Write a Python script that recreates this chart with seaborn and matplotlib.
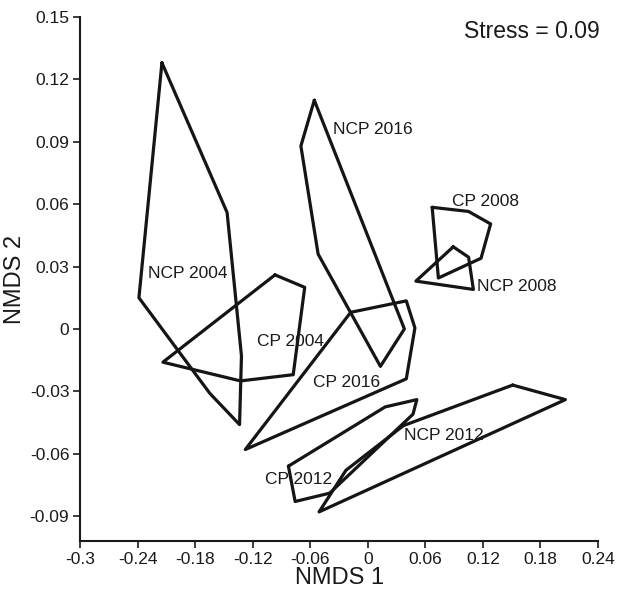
import matplotlib
matplotlib.use("Agg")
import matplotlib.pyplot as plt
import seaborn as sns
import pandas as pd

sns.set_style("ticks")
plt.rcParams['font.family'] = ['Liberation Sans', 'DejaVu Sans']

# Hull vertices per group (NMDS 1, NMDS 2)
ncp2004_x = [-0.215, -0.147, -0.132, -0.134, -0.165, -0.239]
ncp2004_y = [0.128, 0.056, -0.013, -0.046, -0.031, 0.015]
cp2004_x = [-0.097, -0.066, -0.078, -0.133, -0.214]
cp2004_y = [0.026, 0.020, -0.022, -0.025, -0.016]
ncp2016_x = [-0.056, 0.038, 0.013, -0.052, -0.070]
ncp2016_y = [0.110, 0.000, -0.018, 0.036, 0.088]
cp2016_x = [-0.018, 0.040, 0.049, 0.040, -0.128]
cp2016_y = [0.008, 0.0135, 0.0005, -0.024, -0.058]
cp2008_x = [0.067, 0.105, 0.128, 0.118, 0.0735]
cp2008_y = [0.0585, 0.0565, 0.0505, 0.034, 0.0245]
ncp2008_x = [0.089, 0.105, 0.110, 0.050]
ncp2008_y = [0.0395, 0.0345, 0.019, 0.023]
cp2012_x = [-0.083, 0.018, 0.051, 0.047, -0.040, -0.076]
cp2012_y = [-0.066, -0.0375, -0.034, -0.041, -0.079, -0.083]
ncp2012_x = [0.151, 0.206, -0.051, -0.023, 0.037]
ncp2012_y = [-0.027, -0.034, -0.088, -0.068, -0.0465]

groups = ["NCP 2004", "CP 2004", "NCP 2016", "CP 2016",
          "CP 2008", "NCP 2008", "CP 2012", "NCP 2012"]
xs = [ncp2004_x, cp2004_x, ncp2016_x, cp2016_x, cp2008_x, ncp2008_x, cp2012_x, ncp2012_x]
ys = [ncp2004_y, cp2004_y, ncp2016_y, cp2016_y, cp2008_y, ncp2008_y, cp2012_y, ncp2012_y]

# Label anchor points (left edge, vertical centre)
label_x = [-0.230, -0.116, -0.0365, -0.057, 0.0875, 0.114, -0.107, 0.0377]
label_y = [0.0265, -0.006, 0.0957, -0.0259, 0.0615, 0.0205, -0.0722, -0.0514]

x_ticks = [-0.3, -0.24, -0.18, -0.12, -0.06, 0, 0.06, 0.12, 0.18, 0.24]
y_ticks = [-0.09, -0.06, -0.03, 0, 0.03, 0.06, 0.09, 0.12, 0.15]
x_ticklabels = ["-0.3", "-0.24", "-0.18", "-0.12", "-0.06", "0", "0.06", "0.12", "0.18", "0.24"]
y_ticklabels = ["-0.09", "-0.06", "-0.03", "0", "0.03", "0.06", "0.09", "0.12", "0.15"]

rows = []
for g, gx, gy in zip(groups, xs, ys):
    cx = list(gx) + [gx[0]]
    cy = list(gy) + [gy[0]]
    for i, (a, b) in enumerate(zip(cx, cy)):
        rows.append({"group": g, "order": i, "x": a, "y": b})
df = pd.DataFrame(rows)

fig = plt.figure(figsize=(6.19, 5.89), dpi=100)
ax = fig.add_axes([0.130, 0.0815, 0.836, 0.8895])

sns.lineplot(data=df, x="x", y="y", units="group", estimator=None, sort=False,
             color="#151515", linewidth=2.3, ax=ax, legend=False)

for g, lx, ly in zip(groups, label_x, label_y):
    ax.text(lx, ly, g, fontsize=12.5, color="#1a1a1a", ha="left", va="center")

ax.text(0.171, 0.143, "Stress = 0.09", fontsize=16.5, color="#1a1a1a",
        ha="center", va="center")

ax.set_xlim(-0.3, 0.24)
ax.set_ylim(-0.102, 0.15)
ax.set_xticks(x_ticks)
ax.set_xticklabels(x_ticklabels)
ax.set_yticks(y_ticks)
ax.set_yticklabels(y_ticklabels)
ax.tick_params(axis="both", labelsize=12.5, length=5, width=1.2, color="#1a1a1a",
               labelcolor="#1a1a1a", pad=3)
for s in ["top", "right"]:
    ax.spines[s].set_visible(False)
for s in ["left", "bottom"]:
    ax.spines[s].set_linewidth(1.5)
    ax.spines[s].set_color("#1a1a1a")
ax.set_xlabel("NMDS 1", fontsize=17, color="#1a1a1a", labelpad=0)
ax.set_ylabel("NMDS 2", fontsize=17, color="#1a1a1a", labelpad=3)

fig.savefig("out.png", dpi=100)
